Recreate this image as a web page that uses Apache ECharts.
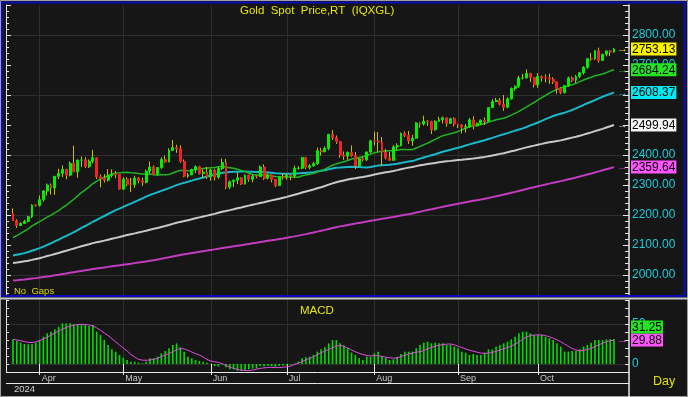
<!DOCTYPE html>
<html><head><meta charset="utf-8">
<script src="https://cdn.jsdelivr.net/npm/echarts@6/dist/echarts.min.js"></script>
<style>html,body{margin:0;padding:0;background:#161616;overflow:hidden}#c{width:688px;height:397px}</style>
</head><body><div id="c"></div>
<script>
const dates = ['03-21','03-22','03-25','03-26','03-27','03-28','03-29',
'04-01','04-02','04-03','04-04','04-05','04-08','04-09','04-10','04-11','04-12','04-15','04-16','04-17','04-18','04-19','04-22','04-23','04-24','04-25','04-26','04-29','04-30',
'05-01','05-02','05-03','05-06','05-07','05-08','05-09','05-10','05-13','05-14','05-15','05-16','05-17','05-20','05-21','05-22','05-23','05-24','05-27','05-28','05-29','05-30','05-31',
'06-03','06-04','06-05','06-06','06-07','06-10','06-11','06-12','06-13','06-14','06-17','06-18','06-19','06-20','06-21','06-24','06-25','06-26','06-27','06-28',
'07-01','07-02','07-03','07-04','07-05','07-08','07-09','07-10','07-11','07-12','07-15','07-16','07-17','07-18','07-19','07-22','07-23','07-24','07-25','07-26','07-29','07-30','07-31',
'08-01','08-02','08-05','08-06','08-07','08-08','08-09','08-12','08-13','08-14','08-15','08-16','08-19','08-20','08-21','08-22','08-23','08-26','08-27','08-28','08-29','08-30',
'09-02','09-03','09-04','09-05','09-06','09-09','09-10','09-11','09-12','09-13','09-16','09-17','09-18','09-19','09-20','09-23','09-24','09-25','09-26','09-27','09-30',
'10-01','10-02','10-03','10-04','10-07','10-08','10-09','10-10','10-11','10-14','10-15','10-16','10-17','10-18','10-21','10-22','10-23','10-24','10-25','10-28','10-29'];

const opens = [2205,2181,2165,2172,2179,2194,2233,
2232,2251,2280,2300,2290,2329,2339,2352,2333,2372,2344,2383,2383,2361,2379,2391,2327,2322,2316,2332,2337,2335,
2286,2320,2303,2301,2323,2314,2309,2346,2360,2336,2358,2385,2377,2415,2425,2421,2379,2329,2334,2351,2361,2338,2343,
2327,2350,2326,2355,2375,2293,2311,2316,2324,2303,2333,2319,2329,2328,2360,2322,2334,2319,2298,2327,
2326,2332,2330,2356,2356,2392,2359,2364,2371,2414,2411,2422,2469,2458,2445,2400,2396,2409,2397,2364,2387,2384,2410,
2447,2446,2443,2409,2390,2382,2427,2431,2472,2465,2447,2456,2507,2503,2513,2512,2484,2512,2518,2524,2505,2521,
2503,2500,2493,2495,2517,2497,2506,2516,2512,2558,2578,2582,2569,2559,2587,2622,2629,2657,2657,2672,2658,
2634,2662,2657,2656,2653,2644,2622,2608,2631,2657,2649,2662,2674,2692,2721,2720,2748,2715,2736,2747,2743];
const highs = [2222,2186,2176,2184,2197,2236,2236,
2265,2283,2305,2305,2330,2354,2365,2354,2378,2431,2385,2395,2392,2385,2417,2392,2335,2336,2353,2352,2346,2336,
2326,2326,2324,2331,2327,2324,2351,2378,2365,2360,2392,2398,2422,2450,2434,2432,2385,2340,2354,2365,2364,2352,2360,
2354,2354,2360,2388,2387,2315,2318,2342,2326,2335,2334,2334,2332,2365,2369,2338,2336,2320,2328,2339,
2338,2335,2364,2363,2392,2393,2370,2377,2425,2424,2429,2469,2483,2465,2446,2412,2412,2432,2410,2390,2395,2412,2451,
2478,2477,2460,2420,2410,2433,2439,2475,2479,2480,2467,2509,2510,2531,2517,2514,2516,2527,2528,2525,2524,2526,
2504,2503,2503,2523,2529,2507,2518,2525,2560,2586,2590,2590,2600,2593,2625,2632,2664,2670,2685,2674,2660,
2673,2665,2669,2671,2659,2645,2626,2633,2661,2662,2667,2677,2696,2722,2740,2749,2758,2737,2747,2750,2757];
const lows = [2180,2157,2163,2170,2175,2190,2228,
2228,2245,2265,2268,2267,2320,2326,2319,2329,2342,2324,2360,2356,2357,2372,2320,2292,2308,2312,2325,2323,2285,
2285,2296,2277,2291,2306,2297,2306,2339,2333,2335,2354,2373,2376,2413,2407,2374,2326,2324,2333,2340,2335,2323,2320,
2314,2315,2320,2350,2286,2286,2293,2303,2300,2302,2311,2309,2322,2327,2317,2319,2309,2293,2297,2318,
2318,2316,2323,2351,2353,2353,2352,2361,2367,2398,2409,2416,2450,2437,2391,2384,2384,2394,2353,2364,2378,2380,2405,
2432,2411,2364,2385,2380,2381,2417,2429,2460,2437,2431,2454,2491,2498,2497,2470,2481,2510,2505,2494,2503,2495,
2490,2472,2475,2490,2485,2495,2500,2500,2510,2556,2576,2565,2547,2556,2585,2614,2624,2652,2655,2643,2625,
2624,2645,2642,2637,2637,2605,2603,2605,2627,2643,2640,2656,2668,2688,2714,2717,2708,2715,2729,2730,2741];
const closes = [2181,2165,2172,2179,2194,2233,2232,
2251,2280,2300,2290,2329,2339,2352,2333,2372,2344,2383,2383,2361,2379,2391,2327,2322,2316,2332,2337,2335,2286,
2320,2303,2301,2323,2314,2309,2346,2360,2336,2358,2385,2377,2415,2425,2421,2379,2329,2334,2351,2361,2338,2343,2327,
2350,2326,2355,2375,2293,2311,2316,2324,2303,2333,2319,2329,2328,2360,2322,2334,2319,2298,2327,2326,
2332,2330,2356,2356,2392,2359,2364,2371,2414,2411,2422,2469,2458,2445,2400,2396,2409,2397,2364,2387,2384,2410,2447,
2446,2443,2409,2390,2382,2427,2431,2472,2465,2447,2456,2507,2503,2513,2512,2484,2512,2518,2524,2505,2521,2503,
2500,2493,2495,2517,2497,2506,2516,2512,2558,2578,2582,2569,2559,2587,2622,2629,2657,2657,2672,2658,2634,
2662,2657,2656,2653,2644,2622,2608,2631,2657,2649,2662,2674,2692,2721,2720,2748,2715,2736,2747,2743,2753.13];

const ma20 = [2125.0,2131.5,2138.6,2146.0,2154.0,2163.5,2170.9,2177.8,2185.4,2192.9,
2199.5,2207.0,2214.9,2224.6,2232.5,2243.0,2252.5,2263.6,2274.9,2283.7,
2293.6,2304.9,2312.6,2319.8,2325.9,2330.8,2336.1,2340.3,2340.6,2341.6,
2342.2,2340.8,2340.0,2338.1,2336.9,2335.6,2336.4,2334.1,2332.8,2334.0,
2333.9,2335.1,2340.0,2345.0,2348.1,2348.0,2347.8,2348.6,2352.4,2353.3,
2355.3,2356.6,2357.9,2358.5,2360.8,2362.3,2358.9,2357.7,2355.6,2352.5,
2348.8,2344.7,2339.4,2334.8,2332.3,2333.8,2333.2,2332.4,2330.3,2328.3,
2327.5,2327.4,2326.5,2326.7,2326.8,2325.8,2330.8,2333.2,2335.6,2337.9,
2343.5,2347.4,2352.5,2359.5,2366.0,2370.3,2374.2,2377.3,2381.8,2386.7,
2388.6,2391.6,2394.2,2398.2,2402.8,2407.3,2409.8,2412.3,2413.6,2414.2,
2414.8,2415.8,2418.3,2418.1,2417.6,2418.1,2423.5,2428.8,2434.0,2439.8,
2445.8,2452.0,2458.7,2464.4,2467.3,2471.1,2474.1,2478.6,2483.8,2489.4,
2493.9,2497.2,2498.9,2501.5,2504.7,2509.8,2513.4,2517.3,2520.1,2522.5,
2527.6,2533.1,2538.7,2545.3,2552.9,2560.5,2568.2,2574.9,2583.4,2591.5,
2598.4,2606.2,2613.1,2618.4,2623.2,2626.9,2630.8,2634.2,2638.8,2644.6,
2649.8,2654.8,2659.3,2663.9,2666.8,2670.0,2674.4,2679.9,2684.24];
const ma50 = [2065.2,2067.6,2069.9,2072.9,2076.7,2080.9,2085.0,2089.5,2094.6,2100.3,
2105.7,2111.9,2118.0,2124.3,2130.2,2136.5,2142.6,2149.8,2156.8,2163.3,
2170.2,2177.5,2183.7,2190.3,2196.7,2203.3,2209.8,2216.1,2221.3,2227.2,
2232.8,2238.1,2244.0,2249.7,2255.2,2261.2,2266.7,2271.2,2275.8,2280.5,
2284.9,2289.6,2294.4,2299.7,2303.8,2307.2,2310.7,2314.6,2318.6,2321.7,
2324.9,2328.1,2331.7,2334.6,2337.8,2340.7,2341.9,2343.1,2343.8,2344.3,
2344.6,2344.7,2344.3,2343.8,2343.7,2343.5,2343.0,2342.0,2340.8,2339.5,
2338.5,2337.2,2337.3,2337.4,2338.2,2338.7,2339.8,2340.3,2341.8,2342.9,
2345.1,2347.3,2349.3,2352.4,2355.3,2357.3,2358.1,2359.3,2360.4,2360.6,
2360.3,2359.8,2359.0,2358.7,2360.1,2362.4,2364.6,2365.8,2366.4,2367.2,
2368.9,2371.0,2373.4,2376.2,2378.0,2379.7,2383.9,2387.8,2391.7,2395.5,
2399.1,2402.7,2406.7,2410.6,2414.1,2417.3,2420.9,2424.3,2427.7,2431.7,
2435.5,2438.9,2442.4,2446.1,2449.2,2453.3,2457.0,2461.4,2465.5,2469.3,
2472.8,2477.0,2481.1,2484.9,2488.9,2493.4,2498.6,2503.3,2508.4,2513.6,
2519.4,2524.8,2530.0,2534.2,2537.4,2541.1,2545.4,2550.2,2555.6,2561.5,
2566.8,2572.6,2577.5,2583.2,2588.6,2594.2,2599.0,2603.8,2608.37];
const ma100 = [2040.0,2041.8,2043.7,2045.6,2047.7,2050.4,2053.2,2056.1,2059.5,2063.1,
2066.3,2070.0,2073.6,2077.3,2080.9,2084.6,2088.2,2092.1,2095.9,2099.3,
2102.7,2106.2,2109.1,2111.6,2114.5,2117.6,2120.7,2123.8,2126.6,2130.0,
2133.2,2136.0,2138.8,2141.8,2144.6,2147.7,2151.0,2153.9,2156.9,2160.2,
2163.3,2166.7,2170.3,2173.9,2177.0,2179.7,2182.7,2185.7,2188.9,2192.0,
2195.1,2197.9,2200.8,2203.8,2207.3,2210.8,2213.5,2216.3,2219.2,2222.3,
2225.2,2228.3,2231.2,2234.1,2237.0,2240.0,2242.8,2245.9,2248.8,2251.4,
2254.4,2257.4,2260.5,2263.9,2267.5,2271.0,2274.8,2278.2,2281.6,2285.1,
2289.0,2292.7,2296.7,2301.1,2305.3,2309.3,2312.4,2315.3,2318.1,2320.6,
2322.6,2324.7,2326.7,2329.2,2332.0,2334.8,2337.7,2340.2,2342.5,2344.5,
2346.9,2349.6,2352.6,2355.4,2357.9,2360.2,2362.9,2365.5,2367.8,2369.9,
2371.9,2373.7,2375.5,2377.2,2378.9,2380.4,2382.0,2383.2,2384.3,2385.6,
2387.0,2388.1,2389.9,2391.8,2393.7,2396.0,2398.4,2400.9,2403.7,2406.1,
2409.0,2412.2,2415.2,2418.7,2422.1,2425.4,2428.4,2431.3,2434.4,2437.1,
2439.9,2442.3,2444.5,2446.5,2448.8,2451.8,2455.0,2458.0,2461.0,2464.4,
2467.9,2471.8,2475.5,2479.7,2483.3,2487.0,2491.5,2495.8,2499.94];
const ma200 = [1981.5,1982.6,1983.8,1985.1,1986.5,1988.1,1989.6,1991.3,1993.1,1995.0,
1996.9,1998.9,2001.0,2003.2,2005.2,2007.4,2009.5,2011.6,2013.7,2015.7,
2017.8,2019.8,2021.6,2023.4,2025.2,2027.1,2029.0,2030.9,2032.6,2034.4,
2036.1,2037.8,2039.6,2041.4,2043.2,2045.3,2047.4,2049.5,2051.8,2054.2,
2056.6,2059.2,2061.9,2064.5,2066.9,2069.0,2071.1,2073.2,2075.3,2077.3,
2079.3,2081.3,2083.4,2085.4,2087.6,2089.9,2091.8,2093.7,2095.6,2097.6,
2099.5,2101.6,2103.7,2105.7,2107.7,2109.9,2111.9,2113.9,2115.9,2117.8,
2119.9,2121.9,2124.1,2126.3,2128.7,2131.2,2133.8,2136.3,2138.9,2141.7,
2144.6,2147.6,2150.5,2153.6,2156.6,2159.4,2162.1,2164.4,2166.9,2169.2,
2171.4,2173.7,2175.9,2178.1,2180.5,2182.8,2185.2,2187.3,2189.4,2191.4,
2193.5,2195.7,2198.2,2200.5,2202.8,2205.3,2208.1,2210.8,2213.7,2216.5,
2219.1,2221.9,2224.6,2227.3,2229.9,2232.5,2235.1,2237.7,2240.1,2242.5,
2244.9,2247.2,2249.5,2251.7,2254.1,2256.8,2259.6,2262.4,2265.2,2268.1,
2271.1,2274.1,2277.0,2280.3,2283.4,2286.6,2289.7,2292.6,2295.7,2298.7,
2301.6,2304.5,2307.4,2310.2,2312.9,2315.8,2318.9,2321.9,2325.0,2328.2,
2331.5,2334.9,2338.2,2341.8,2345.3,2348.9,2352.5,2356.1,2359.64];

const macd = [30.8,29.2,26.7,25.0,24.6,24.6,26.7,30.0,34.2,38.3,
40.4,43.3,46.7,50.8,50.8,50.8,49.6,49.6,49.6,48.8,
47.5,48.8,40.4,36.2,30.0,23.8,18.3,15.4,11.3,7.9,
5.0,2.9,2.9,1.7,0.8,2.9,7.1,7.1,9.2,13.3,
16.3,19.6,23.8,25.8,20.8,15.4,9.2,7.1,5.0,3.8,
2.9,1.7,0.5,-2.5,-3.3,-0.5,-4.2,-6.7,-6.7,-8.3,
-8.8,-7.5,-6.7,-5.8,-5.4,-2.5,-3.0,-2.5,-2.8,-3.5,
-2.5,-2.0,-1.5,-1.0,0.8,2.9,7.1,8.3,9.2,11.3,
15.4,18.3,20.8,25.8,30.0,30.0,25.8,23.0,20.0,14.2,
11.3,7.1,5.0,9.2,9.2,13.3,15.4,10.0,7.9,5.0,
5.8,9.2,12.5,15.4,15.4,15.4,19.6,23.8,26.7,27.9,
25.8,26.7,25.8,25.8,23.8,23.8,21.7,19.6,15.4,14.2,
11.3,12.5,11.3,11.3,14.2,18.3,18.3,21.7,23.8,25.8,
27.9,30.8,34.2,38.3,40.4,40.4,38.3,36.3,36.3,36.3,
34.2,32.1,30.0,25.8,21.7,15.4,15.4,16.3,16.3,18.3,
21.7,23.8,26.7,30.0,30.0,30.0,30.8,30.8,31.25];
const signal = [30.8,30.0,29.2,28.0,27.0,26.8,27.6,29.2,31.3,33.5,
36.3,38.8,41.2,43.5,45.6,47.3,48.5,49.3,49.6,49.3,
48.7,47.5,45.2,42.0,38.8,35.6,31.6,27.7,23.8,19.9,
16.3,11.9,8.6,5.8,4.8,4.7,5.0,5.8,7.0,9.1,
11.2,13.1,15.5,17.8,19.4,18.8,17.2,15.0,13.0,11.3,
8.8,5.6,3.8,2.8,2.0,0.4,-1.8,-4.0,-5.3,-6.9,
-7.7,-8.1,-8.3,-7.6,-6.5,-5.4,-4.9,-4.3,-4.3,-4.5,
-4.5,-4.1,-3.5,-2.6,-0.7,1.0,3.1,5.2,7.1,9.0,
11.5,13.9,16.2,18.1,20.4,22.5,23.5,22.0,20.0,17.5,
15.3,13.4,11.9,10.6,10.3,10.4,10.4,9.6,8.5,7.8,
7.3,7.6,9.3,11.0,12.4,13.6,14.7,15.4,16.9,18.9,
20.8,22.3,23.5,24.3,24.8,25.0,24.0,22.2,20.6,18.8,
17.2,16.0,14.8,13.6,13.3,13.4,14.5,15.8,17.5,19.0,
20.5,22.5,24.8,27.5,31.0,33.8,35.5,36.2,36.4,36.3,
35.5,34.0,32.2,30.2,27.8,25.0,22.2,19.3,17.5,16.8,
17.0,17.9,19.6,21.8,23.9,26.0,28.0,29.1,29.88];

const priceLabels = [2000,2100,2200,2300,2400,2500,2600,2700,2800];
const priceMajorTicks = [2000,2100,2200,2300,2400,2500,2600,2700,2800,2900];
const priceMinorTicks = [];
for (let v = 1940; v <= 2900; v += 20) priceMinorTicks.push(v);
const macdLabels = [0, 50];
const monthNames = {'01':'Jan','02':'Feb','03':'Mar','04':'Apr','05':'May','06':'Jun','07':'Jul','08':'Aug','09':'Sep','10':'Oct','11':'Nov','12':'Dec'};
const yearLabel = '2024';

const FONT = 'Arial, "Liberation Sans", sans-serif';
const GRID_C = '#2e2e2e';
const AX_C = '#e8e8e8';
const CYAN_T = '#1ccbd9';
const WICK = '#cdbc00';
const UP = '#00f000';
const DOWN = '#f02424';

const isMonthStart = (i) => i > 0 && dates[i].slice(0, 2) !== dates[i - 1].slice(0, 2);
const last = dates.length - 1;

function richStyle(arrowColor, bg) {
  return {
    a: {color: arrowColor, fontSize: 11, width: 14, fontFamily: FONT},
    b: {backgroundColor: bg, color: '#000', fontSize: 12, fontFamily: FONT, padding: [1, 1, 0, 1], lineHeight: 11}
  };
}
function endLbl(arrowColor, bg) {
  return {
    show: true, distance: 3,
    formatter: p => '{a|\u2192}{b|' + Number(Array.isArray(p.value) ? p.value[1] : p.value).toFixed(2) + '}',
    rich: richStyle(arrowColor, bg)
  };
}
function maSeries(name, data, color, width, bg) {
  return {
    name, type: 'line', xAxisIndex: 0, yAxisIndex: 0, data, symbol: 'none', silent: true,
    lineStyle: {color, width}, z: 3,
    endLabel: endLbl(color, bg)
  };
}

const chart = echarts.init(document.getElementById('c'), null, {renderer: 'canvas'});
const hidden = {show: false};

chart.setOption({
  animation: false,
  backgroundColor: '#161616',
  grid: [
    {left: 13, right: 74, top: 5, height: 291},
    {left: 6, right: 59, top: 35, height: 240},
    {left: 13, right: 74, top: 300, height: 72},
    {left: 6, right: 59, top: 324, height: 40}
  ],
  xAxis: [
    {gridIndex: 0, type: 'category', data: dates, boundaryGap: false,
      axisLine: hidden, axisTick: hidden, axisLabel: hidden,
      splitLine: {show: true, interval: (i) => isMonthStart(i), lineStyle: {color: GRID_C, width: 1}}},
    {gridIndex: 1, type: 'value', show: false, min: 0, max: 1},
    {gridIndex: 2, type: 'category', data: dates, boundaryGap: false,
      axisLine: hidden,
      axisTick: {show: true, interval: (i) => isMonthStart(i), length: 11, lineStyle: {color: AX_C, width: 1}},
      axisLabel: {show: true, interval: (i) => isMonthStart(i), formatter: v => monthNames[v.slice(0, 2)],
        align: 'left', padding: [0, 0, 0, 2], margin: 2, color: '#c8c8c8', fontSize: 9, fontFamily: FONT},
      splitLine: {show: true, interval: (i) => isMonthStart(i), lineStyle: {color: GRID_C, width: 1}}},
    {gridIndex: 3, type: 'value', show: false, min: 0, max: 1}
  ],
  yAxis: [
    {gridIndex: 0, type: 'value', position: 'right', offset: 15, min: 1930, max: 2900,
      axisLine: {show: true, lineStyle: {color: AX_C, width: 1.5}},
      axisTick: {show: true, inside: true, length: 4, customValues: priceMinorTicks, lineStyle: {color: AX_C}},
      axisLabel: hidden, splitLine: hidden},
    {gridIndex: 0, type: 'value', position: 'right', offset: 15, min: 1930, max: 2900,
      axisLine: hidden,
      axisTick: {show: true, inside: true, length: 6, customValues: priceMajorTicks, lineStyle: {color: AX_C}},
      axisLabel: {show: true, customValues: priceLabels, formatter: v => Number(v).toFixed(2), color: CYAN_T,
        fontSize: 12, fontFamily: FONT, margin: 3},
      splitLine: hidden},
    {gridIndex: 0, type: 'value', position: 'left', offset: 7, min: 1930, max: 2900,
      axisLine: {show: true, lineStyle: {color: AX_C, width: 1}},
      axisTick: {show: true, inside: true, length: 3, customValues: priceMinorTicks, lineStyle: {color: AX_C}},
      axisLabel: hidden, splitLine: hidden},
    {gridIndex: 0, type: 'value', position: 'left', offset: 7, min: 1930, max: 2900,
      axisLine: hidden,
      axisTick: {show: true, inside: true, length: 5, customValues: priceMajorTicks, lineStyle: {color: AX_C}},
      axisLabel: hidden, splitLine: hidden},
    {gridIndex: 1, type: 'value', min: 2000, max: 2800, interval: 200,
      axisLine: hidden, axisTick: hidden, axisLabel: hidden,
      splitLine: {show: true, lineStyle: {color: GRID_C, width: 1}}},
    {gridIndex: 2, type: 'value', position: 'right', offset: 15, min: -10, max: 80, interval: 10,
      axisLine: {show: true, lineStyle: {color: AX_C, width: 1.5}},
      axisTick: {show: true, inside: true, length: 4, lineStyle: {color: AX_C}},
      axisLabel: {show: true, customValues: macdLabels, formatter: v => String(v), color: CYAN_T, fontSize: 12, fontFamily: FONT, margin: 3},
      splitLine: hidden},
    {gridIndex: 2, type: 'value', position: 'left', offset: 7, min: -10, max: 80, interval: 10,
      axisLine: {show: true, lineStyle: {color: AX_C, width: 1}},
      axisTick: {show: true, inside: true, length: 3, lineStyle: {color: AX_C}},
      axisLabel: hidden, splitLine: hidden},
    {gridIndex: 3, type: 'value', min: 0, max: 50, interval: 50,
      axisLine: hidden, axisTick: hidden, axisLabel: hidden,
      splitLine: {show: true, lineStyle: {color: GRID_C, width: 1}}}
  ],
  series: [
    {name: 'wick', type: 'candlestick', xAxisIndex: 0, yAxisIndex: 0, barWidth: 1, clip: false, silent: true, z: 4,
      data: dates.map((d, i) => [opens[i], closes[i], lows[i], highs[i]]),
      itemStyle: {color: WICK, color0: WICK, borderColor: WICK, borderColor0: WICK, borderWidth: 1}},
    {name: 'body', type: 'candlestick', xAxisIndex: 0, yAxisIndex: 0, barWidth: 2.4, clip: false, silent: true, z: 5,
      data: dates.map((d, i) => [opens[i], closes[i], Math.min(opens[i], closes[i]), Math.max(opens[i], closes[i])]),
      itemStyle: {color: UP, color0: DOWN, borderColor: UP, borderColor0: DOWN, borderWidth: 1}},
    maSeries('MA200', ma200, '#c23cc2', 2, '#ff55ff'),
    maSeries('MA100', ma100, '#c9c9c9', 2, '#f4f4f4'),
    maSeries('MA50', ma50, '#17b9c9', 2, '#00e8f2'),
    maSeries('MA20', ma20, '#22b422', 1.5, '#24e424'),
    {name: 'close', type: 'scatter', xAxisIndex: 0, yAxisIndex: 0, symbolSize: 0, silent: true, z: 6,
      itemStyle: {opacity: 1},
      data: [[last, closes[last]]],
      label: {show: true, opacity: 1, position: 'right', distance: 3,
        formatter: p => '{a|\u2192}{b|' + Number(p.value[1]).toFixed(2) + '}', rich: richStyle('#f0e000', '#fbf200')}},
    {name: 'MACD', type: 'bar', xAxisIndex: 2, yAxisIndex: 5, data: macd, barWidth: 1.6, silent: true,
      itemStyle: {color: '#00e000'}},
    {name: 'Signal', type: 'line', xAxisIndex: 2, yAxisIndex: 5, data: signal, symbol: 'none', silent: true, z: 4,
      lineStyle: {color: '#e24ce2', width: 1},
      endLabel: endLbl('#e24ce2', '#ff55ff')},
    {name: 'macdLast', type: 'scatter', xAxisIndex: 2, yAxisIndex: 5, symbolSize: 0, silent: true, z: 6,
      itemStyle: {opacity: 1},
      data: [[last, macd[last]]],
      label: {show: true, opacity: 1, position: 'right', distance: 3, offset: [0, -12],
        formatter: p => '{a|\u2192}{b|' + Number(p.value[1]).toFixed(2) + '}', rich: richStyle('rgba(0,0,0,0)', '#24e424')}}
  ],
  graphic: [
    {type: 'rect', z: 100, silent: true, shape: {x: 0.5, y: 0.5, width: 687, height: 396}, style: {fill: 'none', stroke: '#a0a0a0', lineWidth: 1}},
    {type: 'rect', z: 100, silent: true, shape: {x: 2, y: 2.5, width: 682.5, height: 293.5}, style: {fill: 'none', stroke: '#0b0bb8', lineWidth: 2}},
    {type: 'line', z: 100, silent: true, shape: {x1: 0, y1: 298.5, x2: 688, y2: 298.5}, style: {stroke: '#c8c8c8', lineWidth: 2}},
    {type: 'line', z: 100, silent: true, shape: {x1: 6, y1: 372.5, x2: 629, y2: 372.5}, style: {stroke: AX_C, lineWidth: 1}},
    {type: 'line', z: 100, silent: true, shape: {x1: 6, y1: 383.5, x2: 629, y2: 383.5}, style: {stroke: AX_C, lineWidth: 1}},
    {type: 'line', z: 100, silent: true, shape: {x1: 629, y1: 372, x2: 629, y2: 397}, style: {stroke: AX_C, lineWidth: 1.5}},
    {type: 'text', z: 101, silent: true, x: 240, y: 11, style: {text: 'Gold  Spot  Price,RT  (IQXGL)', fill: '#e6e600', font: '11.5px ' + FONT, verticalAlign: 'middle', textVerticalAlign: 'middle'}},
    {type: 'text', z: 101, silent: true, x: 14, y: 291, style: {text: 'No  Gaps', fill: '#d8d800', font: '9.5px ' + FONT, verticalAlign: 'middle', textVerticalAlign: 'middle'}},
    {type: 'text', z: 101, silent: true, x: 300, y: 311, style: {text: 'MACD', fill: '#e6e600', font: '11.5px ' + FONT, verticalAlign: 'middle', textVerticalAlign: 'middle'}},
    {type: 'text', z: 101, silent: true, x: 653, y: 382, style: {text: 'Day', fill: '#e6e600', font: '12.5px ' + FONT, verticalAlign: 'middle', textVerticalAlign: 'middle'}},
    {type: 'text', z: 101, silent: true, x: 14, y: 389, style: {text: yearLabel, fill: '#d0d0d0', font: '9.5px ' + FONT, verticalAlign: 'middle', textVerticalAlign: 'middle'}}
  ]
});
</script>
</body></html>
